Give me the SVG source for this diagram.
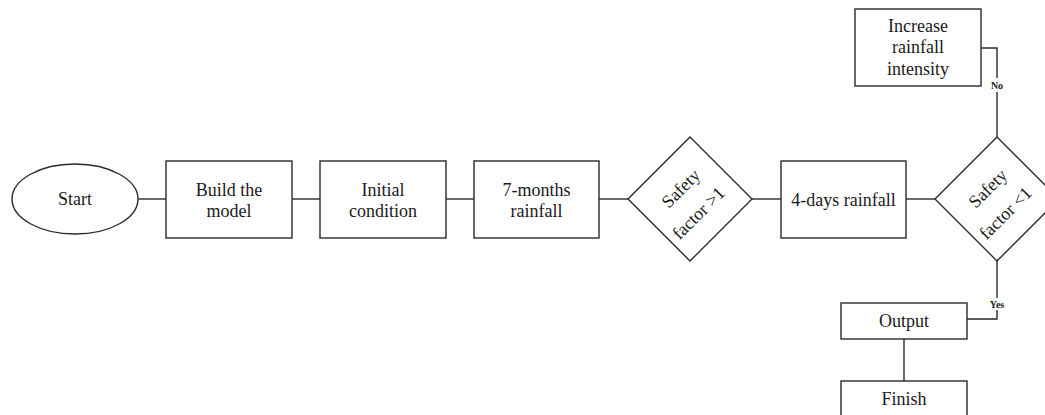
<svg xmlns="http://www.w3.org/2000/svg" width="1045" height="415" viewBox="0 0 1045 415">
<style>
.s{fill:#fff;stroke:#2a2a2a;stroke-width:1.4}
.c{fill:none;stroke:#2a2a2a;stroke-width:1.4}
.t{font-family:"Liberation Serif","Times New Roman",serif;font-size:18px;fill:#1a1a1a;text-anchor:middle}
.l{font-family:"Liberation Serif","Times New Roman",serif;font-size:10px;font-weight:bold;fill:#1a1a1a;text-anchor:middle}
</style>
<rect width="1045" height="415" fill="#fff"/>
<g id="connectors">
<line class="c" x1="138" y1="199" x2="166" y2="199"/>
<line class="c" x1="292" y1="199" x2="320" y2="199"/>
<line class="c" x1="446" y1="199" x2="474" y2="199"/>
<line class="c" x1="599" y1="199" x2="628" y2="199"/>
<line class="c" x1="752" y1="199" x2="781" y2="199"/>
<line class="c" x1="906" y1="199" x2="935" y2="199"/>
<polyline class="c" points="997,137 997,92"/>
<polyline class="c" points="997,78 997,48 981,48"/>
<polyline class="c" points="997,261 997,298"/>
<polyline class="c" points="997,310 997,319 967,319"/>
<line class="c" x1="904" y1="339" x2="904" y2="381"/>
<text class="l" x="997" y="89">No</text>
<text class="l" x="997" y="308">Yes</text>
</g>
<g id="start">
<ellipse class="s" cx="75" cy="199" rx="63" ry="35"/>
<text class="t" x="75" y="205">Start</text>
</g>
<g id="build">
<rect class="s" x="166" y="161" width="126" height="77"/>
<text class="t" x="229" y="196">Build the</text>
<text class="t" x="229" y="217">model</text>
</g>
<g id="initial">
<rect class="s" x="320" y="161" width="126" height="77"/>
<text class="t" x="383" y="196">Initial</text>
<text class="t" x="383" y="217">condition</text>
</g>
<g id="months">
<rect class="s" x="474" y="161" width="125" height="77"/>
<text class="t" x="536.5" y="196">7-months</text>
<text class="t" x="536.5" y="217">rainfall</text>
</g>
<g id="decision1">
<polygon class="s" points="690,137 752,199 690,261 628,199"/>
<g transform="translate(690,199) rotate(-45)">
<text class="t" x="1" y="-8">Safety</text>
<text class="t" x="-4" y="22">factor &gt;1</text>
</g>
</g>
<g id="days">
<rect class="s" x="781" y="161" width="125" height="77"/>
<text class="t" x="843.5" y="206">4-days rainfall</text>
</g>
<g id="decision2">
<polygon class="s" points="997,137 1059,199 997,261 935,199"/>
<g transform="translate(997,199) rotate(-45)">
<text class="t" x="1" y="-8">Safety</text>
<text class="t" x="-4" y="22">factor &lt;1</text>
</g>
</g>
<g id="increase">
<rect class="s" x="855" y="9" width="126" height="77"/>
<text class="t" x="918" y="32">Increase</text>
<text class="t" x="918" y="53">rainfall</text>
<text class="t" x="918" y="75">intensity</text>
</g>
<g id="output">
<rect class="s" x="841" y="303" width="126" height="36"/>
<text class="t" x="904" y="327">Output</text>
</g>
<g id="finish">
<rect class="s" x="841" y="381" width="126" height="50"/>
<text class="t" x="904" y="405">Finish</text>
</g>
</svg>
